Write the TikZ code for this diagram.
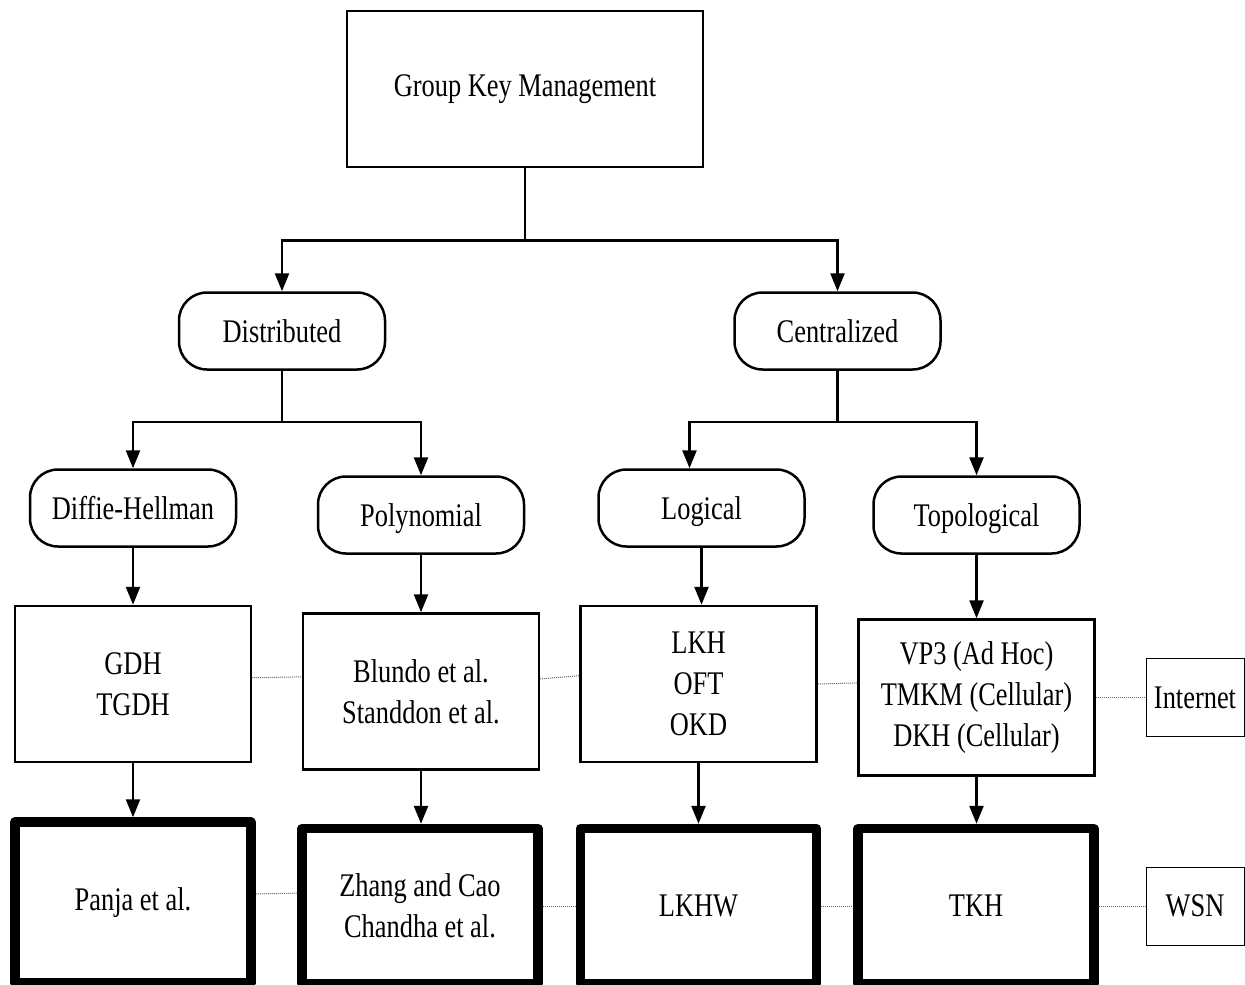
\documentclass[tikz,border=0pt]{standalone}
\usepackage{fontspec}
\setmainfont{Liberation Serif}[FakeStretch=0.8]
\usetikzlibrary{positioning,arrows.meta}

\tikzset{
  lbl/.style={font=\fontsize{33}{41}\selectfont, align=center, inner sep=0pt},
  box/.style={lbl, draw, line width=2.5pt, minimum width=236pt, minimum height=156pt},
  pill/.style={lbl, draw, line width=2.5pt, rounded corners=28pt, minimum width=206pt, minimum height=77pt, text height=22pt, text depth=0pt},
  heavy/.style={box, line width=9.5pt, line join=round, minimum height=155pt},
  tag/.style={lbl, draw, line width=1pt, minimum width=98pt, minimum height=78pt},
  arr/.style={line width=2.5pt, -{Triangle[length=18pt,width=14pt]}},
  link/.style={line width=1pt, black!60, densely dotted},
}

\begin{document}
\begin{tikzpicture}[x=1pt,y=-1pt,on grid]
  \useasboundingbox (0,0) rectangle (1245,985);
                          \node[box, minimum width=356pt] (gkm) at (525,89) {Group Key Management};
      \node[pill, below left=242pt and 243pt of gkm] (dist) {Distributed};
                                        \node[pill, below right=242pt and 312.5pt of gkm] (cent) {Centralized};
  \node[pill, below left=177pt and 149pt of dist] (dh) {Diffie-Hellman};
              \node[pill, below right=184pt and 139pt of dist] (poly) {Polynomial};
                          \node[pill, below left=177pt and 136pt of cent] (logi) {Logical};
                                        \node[pill, below right=184pt and 139pt of cent] (topo) {Topological};
  \node[box, below=176pt of dh] (gdh) {GDH\\TGDH};
              \node[box, below=176.5pt of poly] (blundo) {Blundo et al.\\Standdon et al.};
                          \node[box, below left=176pt and 3pt of logi] (lkh) {LKH\\OFT\\OKD};
                                        \node[box, below=182.5pt of topo] (vp3) {VP3 (Ad Hoc)\\TMKM (Cellular)\\DKH (Cellular)};
                                                    \node[tag, right=218.5pt of vp3] (inet) {Internet};
  \node[heavy, minimum height=161pt, below=218.5pt of gdh] (panja) {Panja et al.};
              \node[heavy, below left=214.5pt and 1pt of blundo] (zhang) {Zhang and Cao\\Chandha et al.};
                          \node[heavy, below=222pt of lkh] (lkhw) {LKHW};
                                        \node[heavy, below left=208.5pt and 0.5pt of vp3] (tkh) {TKH};
                                                    \node[tag, right=219pt of tkh] (wsn) {WSN};
  \draw[arr] (gkm.south) -- ++(0,72) -| (dist.north);
  \draw[arr] (gkm.south) -- ++(0,72) -| (cent.north);
  \draw[arr] (dist.south) -- ++(0,51) -| (dh.north);
  \draw[arr] (dist.south) -- ++(0,51) -| (poly.north);
  \draw[arr] (cent.south) -- ++(0,51) -| ([xshift=-12pt]logi.north);
  \draw[arr] (cent.south) -- ++(0,51) -| (topo.north);
  \path (dh) edge[arr] (gdh) ;   \path (poly) edge[arr] (blundo) ;   \path (logi.south) edge[arr] (logi.south |- lkh.north) ;   \path (topo) edge[arr] (vp3) ;
  \path (gdh) edge[arr] (panja) ;   \path (blundo.south) edge[arr] (blundo.south |- zhang.north) ;   \path (lkh) edge[arr] (lkhw) ;   \path (vp3.south) edge[arr] (vp3.south |- tkh.north) ;
  \path (gdh.3) edge[link] (blundo.173) ;   \path (blundo.6) edge[link] (lkh.176) ;   \path (lkh.east) edge[link] (vp3.173) ;   \path (vp3) edge[link] (inet) ;
  \path (panja.4) edge[link] (zhang.174) ;   \path (zhang) edge[link] (lkhw) ;   \path (lkhw) edge[link] (tkh) ;   \path (tkh) edge[link] (wsn) ;
\end{tikzpicture}
\end{document}
